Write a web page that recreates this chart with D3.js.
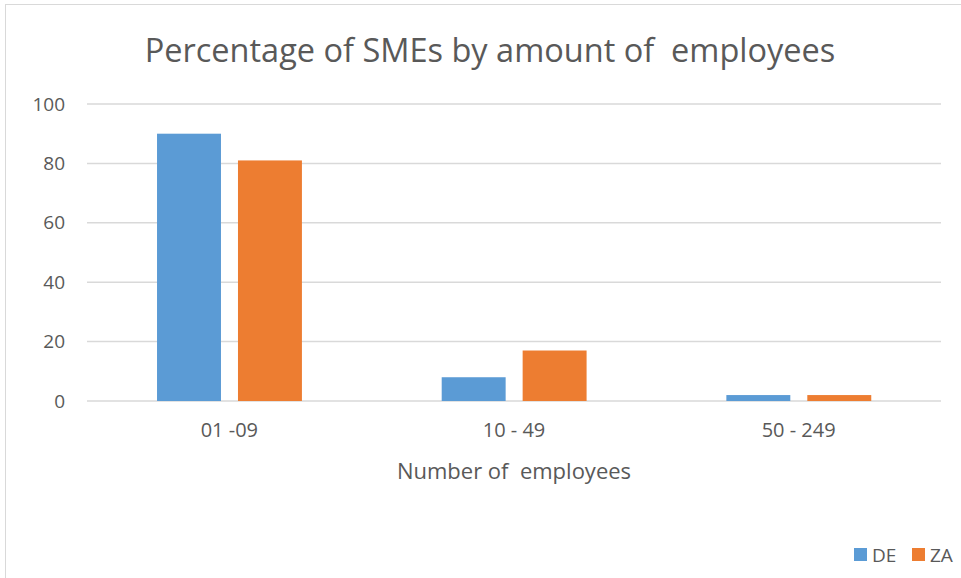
<!DOCTYPE html>
<html>
<head>
<meta charset="utf-8">
<script src="https://cdn.jsdelivr.net/npm/d3@7"></script>
<style>
  body { margin: 0; background: #fff; }
  text { font-family: "Open Sans", sans-serif; fill: #595959; }
</style>
</head>
<body>
<script>
// data
var categories = ["01 -09", "10 - 49", "50 - 249"];
var series = ["DE", "ZA"];
var deValues = [90, 8, 2];
var zaValues = [81, 17, 2];
var yTicks = [0, 20, 40, 60, 80, 100];
var colors = ["#5B9BD5", "#ED7D31"];

var w = 961, h = 578;
var plotLeft = 87, plotRight = 941, plotTop = 104, plotBottom = 401;

var svg = d3.select("body").append("svg")
    .attr("width", w)
    .attr("height", h);

// chart border
svg.append("rect")
    .attr("x", 5.5).attr("y", 4.5)
    .attr("width", w + 10).attr("height", h + 10)
    .attr("fill", "none")
    .attr("stroke", "#d9d9d9")
    .attr("stroke-width", 1);

var x0 = d3.scaleBand()
    .domain(categories)
    .range([plotLeft, plotRight]);

var gw = x0.bandwidth();
var x1 = d3.scaleBand()
    .domain(series)
    .range([gw * 0.246, gw * 0.755])
    .paddingInner(0.21);

var y = d3.scaleLinear()
    .domain([0, 100])
    .range([plotBottom, plotTop]);

// gridlines
svg.append("g")
    .selectAll("line")
    .data(yTicks)
    .enter()
    .append("line")
    .attr("x1", plotLeft).attr("x2", plotRight)
    .attr("y1", d => y(d)).attr("y2", d => y(d))
    .attr("stroke", "#d9d9d9")
    .attr("stroke-width", 1.5);

// y tick labels
var yAxis = d3.axisLeft(y).tickValues(yTicks).tickSize(0).tickPadding(0);
var gy = svg.append("g")
    .attr("transform", "translate(65,0)")
    .call(yAxis);
gy.select(".domain").remove();
gy.selectAll("text")
    .attr("font-size", 19)
    .attr("font-family", "Open Sans, sans-serif")
    .attr("fill", "#595959");

// bars
var rows = categories.map((c, i) => ({cat: c, vals: [deValues[i], zaValues[i]]}));

var groups = svg.selectAll(".grp")
    .data(rows)
    .enter()
    .append("g")
    .attr("class", "grp")
    .attr("transform", d => "translate(" + x0(d.cat) + ",0)");

groups.selectAll("rect")
    .data(d => d.vals.map((v, j) => ({key: series[j], v: v, c: colors[j]})))
    .enter()
    .append("rect")
    .attr("x", d => x1(d.key))
    .attr("width", x1.bandwidth())
    .attr("y", d => y(d.v))
    .attr("height", d => y(0) - y(d.v))
    .attr("fill", d => d.c);

// x axis labels
var xAxis = d3.axisBottom(x0).tickSize(0).tickPadding(0);
var gx = svg.append("g")
    .attr("transform", "translate(0,423)")
    .call(xAxis);
gx.select(".domain").remove();
gx.selectAll("text")
    .attr("font-size", 20)
    .attr("font-family", "Open Sans, sans-serif")
    .attr("fill", "#595959");

// title
svg.append("text")
    .attr("x", 490)
    .attr("y", 62)
    .attr("text-anchor", "middle")
    .attr("font-size", 32.5)
    .attr("xml:space", "preserve")
    .text("Percentage of SMEs by amount of  employees");

// axis title
svg.append("text")
    .attr("x", 514)
    .attr("y", 479)
    .attr("text-anchor", "middle")
    .attr("font-size", 22)
    .attr("xml:space", "preserve")
    .text("Number of  employees");

// legend
var legend = svg.selectAll(".leg")
    .data(series)
    .enter()
    .append("g")
    .attr("class", "leg")
    .attr("transform", (d, i) => "translate(" + (854 + i * 58) + ",548)");

legend.append("rect")
    .attr("width", 13).attr("height", 13)
    .attr("fill", (d, i) => colors[i]);

legend.append("text")
    .attr("x", 18)
    .attr("y", 14)
    .attr("font-size", 19)
    .text(d => d);
</script>
</body>
</html>
